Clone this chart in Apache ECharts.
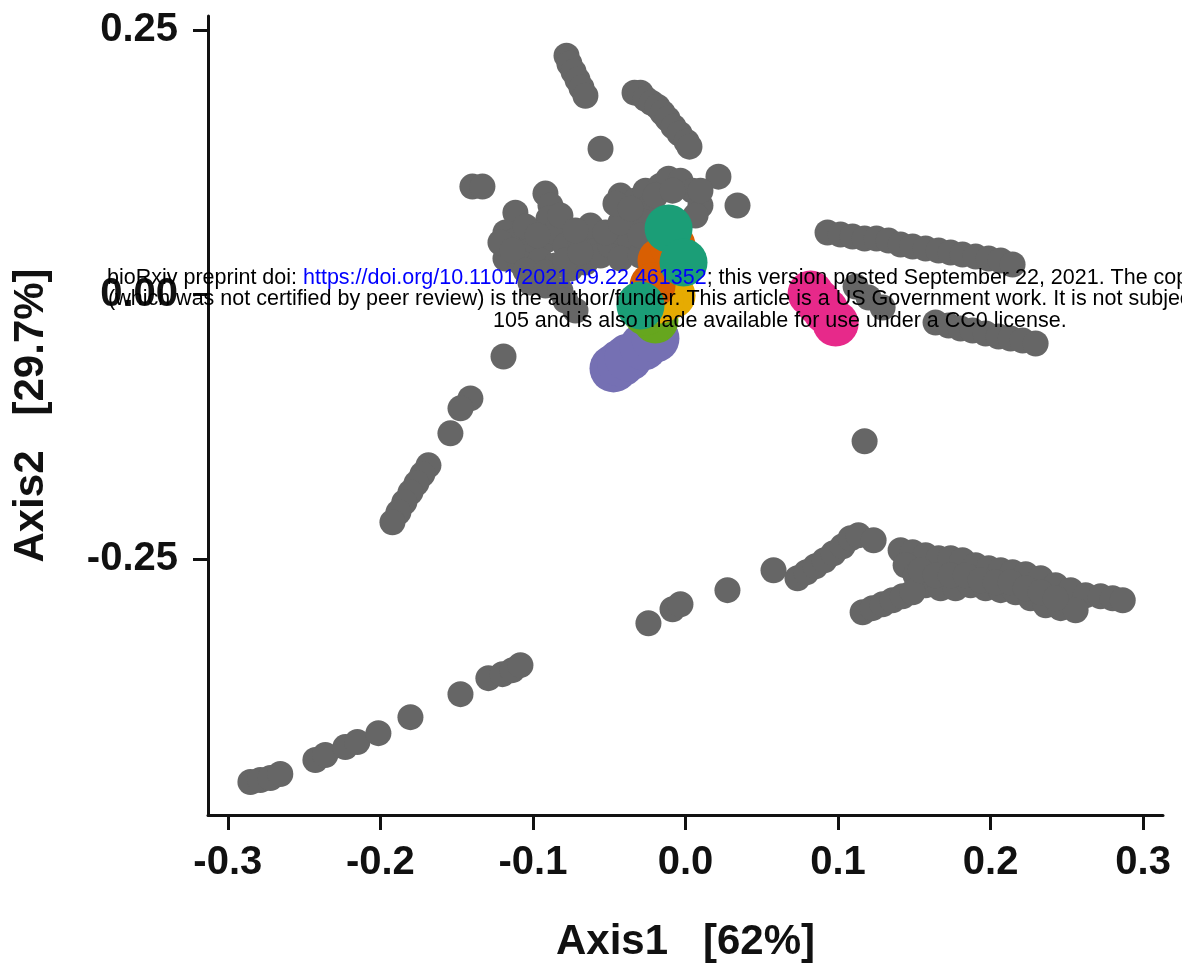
<!DOCTYPE html>
<html>
<head>
<meta charset="utf-8">
<script src="https://cdn.jsdelivr.net/npm/echarts@6/dist/echarts.min.js"></script>
<style>
html,body{margin:0;padding:0;background:#fff;}
#chart{width:1182px;height:963px;}
</style>
</head>
<body>
<div id="chart"></div>
<script>
// ---- tick labels ----
const xTicks = [-0.3, -0.2, -0.1, 0.0, 0.1, 0.2, 0.3];
const xTickLabels = ['-0.3', '-0.2', '-0.1', '0.0', '0.1', '0.2', '0.3'];
const yTicks = [-0.25, 0.0, 0.25];
const yTickLabels = ['-0.25', '0.00', '0.25'];

// ---- gray samples (Axis1, Axis2) ----
const grayTopChain = [[-0.0780,0.2255],[-0.0761,0.2179],[-0.0734,0.2104],[-0.0708,0.2028],[-0.0682,0.1953],[-0.0656,0.1877]];
const grayUpperChain = [[-0.0334,0.1906],[-0.0295,0.1906],[-0.0262,0.1849],[-0.0223,0.1811],[-0.0184,0.1774],[-0.0151,0.1717],[-0.0118,0.1660],[-0.0079,0.1585],[-0.0039,0.1519],[0.0007,0.1443],[0.0026,0.1396]];
const graySingles = [[-0.0557,0.1377],[-0.1397,0.1019],[-0.1331,0.1019],[0.0216,0.1113],[0.0341,0.0840],[0.1174,-0.1386]];
const grayCentralCluster = [[-0.1115,0.0773],[-0.0918,0.0953],[-0.0885,0.0840],[-0.0898,0.0717],[-0.1180,0.0585],[-0.1115,0.0509],[-0.1016,0.0462],[-0.0918,0.0509],[-0.0852,0.0585],[-0.0787,0.0462],[-0.0689,0.0509],[-0.0590,0.0415],[-0.1180,0.0340],[-0.1082,0.0302],[-0.0951,0.0321],[-0.0852,0.0274],[-0.0754,0.0245],[-0.0656,0.0302],[-0.0557,0.0368],[-0.0492,0.0462],[-0.0426,0.0585],[-0.0393,0.0745],[-0.0426,0.0934],[-0.0328,0.0887],[-0.0262,0.0981],[-0.0164,0.1028],[-0.0111,0.1094],[-0.0033,0.1075],[0.0046,0.0981],[0.0098,0.0840],[0.0066,0.0745],[-0.0230,0.0840],[-0.0295,0.0698],[-0.0361,0.0509],[-0.0426,0.0340],[-0.0295,0.0368],[-0.0918,0.0085],[-0.0820,0.0038],[-0.0787,-0.0057],[-0.0721,-0.0151],[-0.1016,0.0113],
  [-0.1213,0.0491],[-0.1134,0.0415],[-0.1049,0.0642],[-0.0970,0.0557],[-0.1049,0.0226],[-0.0918,0.0208],[-0.0787,0.0321],[-0.0689,0.0396],[-0.0623,0.0651],[-0.0525,0.0585],[-0.0426,0.0679],[-0.0295,0.0557],[-0.0459,0.0858],[-0.0361,0.0811],[-0.0197,0.0934],[-0.0085,0.0981],[0.0098,0.0981],[-0.0820,0.0745],[-0.0721,0.0604]];
const grayRightUpper = [[0.0931,0.0585],[0.1016,0.0566],[0.1095,0.0547],[0.1174,0.0528],[0.1252,0.0528],[0.1331,0.0509],[0.1410,0.0472],[0.1489,0.0453],[0.1574,0.0434],[0.1659,0.0415],[0.1738,0.0396],[0.1816,0.0377],[0.1902,0.0358],[0.1987,0.0340],[0.2066,0.0321],[0.2144,0.0283]];
const grayRightLower = [[0.1115,0.0075],[0.1200,-0.0028],[0.1292,-0.0123],[0.1639,-0.0264],[0.1725,-0.0292],[0.1803,-0.0321],[0.1882,-0.0340],[0.1967,-0.0368],[0.2052,-0.0396],[0.2131,-0.0415],[0.2210,-0.0434],[0.2295,-0.0462]];
const grayLeftChain = [[-0.1193,-0.0585],[-0.1410,-0.0981],[-0.1475,-0.1075],[-0.1541,-0.1311],[-0.1685,-0.1613],[-0.1725,-0.1698],[-0.1764,-0.1783],[-0.1803,-0.1868],[-0.1843,-0.1962],[-0.1882,-0.2057],[-0.1921,-0.2151]];
const grayBottomLeft = [[-0.2852,-0.4604],[-0.2787,-0.4585],[-0.2721,-0.4566],[-0.2656,-0.4528],[-0.2426,-0.4396],[-0.2361,-0.4349],[-0.2230,-0.4274],[-0.2151,-0.4226],[-0.2013,-0.4142],[-0.1803,-0.3991],[-0.1475,-0.3774],[-0.1292,-0.3623],[-0.1200,-0.3585],[-0.1134,-0.3547],[-0.1082,-0.3500]];
const grayBottomRight = [[-0.0243,-0.3104],[-0.0085,-0.2972],[-0.0033,-0.2925],[0.0275,-0.2792],[0.0577,-0.2604],[0.0734,-0.2679],[0.0793,-0.2623],[0.0852,-0.2566],[0.0911,-0.2509],[0.0970,-0.2443],[0.1030,-0.2377],[0.1082,-0.2302],[0.1134,-0.2274],[0.1233,-0.2321],[0.1410,-0.2415],[0.1489,-0.2434],[0.1574,-0.2462],[0.1659,-0.2491],[0.1738,-0.2491],[0.1816,-0.2509],[0.1902,-0.2557],[0.1987,-0.2585],[0.2066,-0.2604],[0.2144,-0.2623],[0.2230,-0.2642],[0.2328,-0.2679],[0.2426,-0.2745],[0.2525,-0.2792],[0.2623,-0.2840],[0.2721,-0.2849],[0.2800,-0.2868],[0.2866,-0.2887],[0.1443,-0.2557],[0.1508,-0.2651],[0.1574,-0.2745],[0.1672,-0.2774],[0.1770,-0.2774],[0.1869,-0.2745],[0.1967,-0.2774],[0.2066,-0.2792],[0.2164,-0.2811],[0.2262,-0.2868],[0.2361,-0.2934],[0.2459,-0.2962],[0.2557,-0.2981],[0.1161,-0.3000],[0.1226,-0.2962],[0.1292,-0.2925],[0.1357,-0.2887],[0.1423,-0.2849],[0.1489,-0.2811],
  [0.1541,-0.2604],[0.1639,-0.2651],[0.1738,-0.2651],[0.1836,-0.2651],[0.1934,-0.2698],[0.2033,-0.2717],[0.2131,-0.2717],[0.2230,-0.2774],[0.2328,-0.2811],[0.2426,-0.2868]];

// ---- coloured samples ----
const purplePts = [[-0.0472,-0.0698],[-0.0423,-0.0646],[-0.0374,-0.0594],[-0.0275,-0.0491],[-0.0197,-0.0415]];
const pinkPts = [[0.0820,0.0009],[0.0869,-0.0071],[0.0918,-0.0151],[0.0984,-0.0274]];
const lightGreenPts = [[-0.0197,-0.0245],[-0.0262,-0.0170]];
const yellowPts = [[-0.0085,-0.0009],[-0.0164,-0.0057]];
const orangePts = [[-0.0164,0.0321],[-0.0085,0.0462],[-0.0216,0.0085]];
const tealPts = [[-0.0111,0.0623],[-0.0013,0.0302],[-0.0295,-0.0104]];

// ---- header text ----
const headerLine1a = 'bioRxiv preprint doi: ';
const headerLink = 'https://doi.org/10.1101/2021.09.22.461352';
const headerLine1b = '; this version posted September 22, 2021. The copyright holder for this preprint';
const headerLine2 = '(which was not certified by peer review) is the author/funder. This article is a US Government work. It is not subject to copyright under 17 USC';
const headerLine3 = '105 and is also made available for use under a CC0 license.';

const FONT = "'Liberation Sans', Arial, Helvetica, sans-serif";
const gray = [].concat(grayTopChain, grayUpperChain, graySingles, grayCentralCluster, grayRightUpper, grayRightLower, grayLeftChain, grayBottomLeft, grayBottomRight);

function scat(data, color, size) {
  return {type:'scatter', data:data, symbolSize:size, itemStyle:{color:color, opacity:1}, silent:true};
}

const chart = echarts.init(document.getElementById('chart'), null, {renderer:'canvas'});
chart.setOption({
  animation:false,
  backgroundColor:'#ffffff',
  grid:{left:208, right:19, top:16, bottom:148, containLabel:false, outerBoundsMode:'none'},
  xAxis:{
    type:'value', min:-0.313, max:0.313,
    name:'Axis1   [62%]', nameLocation:'middle', nameGap:106,
    nameTextStyle:{fontFamily:FONT, fontSize:42, fontWeight:'bold', color:'#111'},
    axisLine:{show:true, onZero:false, lineStyle:{color:'#111', width:3}},
    axisTick:{show:true, length:15, customValues:xTicks, lineStyle:{color:'#111', width:3}},
    axisLabel:{customValues:xTicks, margin:28, fontFamily:FONT, fontSize:40, fontWeight:'bold', color:'#111',
      formatter:function(v){const i=xTicks.findIndex(t=>Math.abs(t-v)<1e-6); return i>=0?xTickLabels[i]:'';}},
    splitLine:{show:false}
  },
  yAxis:{
    type:'value', min:-0.4915, max:0.263,
    name:'Axis2   [29.7%]', nameLocation:'middle', nameGap:156,
    nameTextStyle:{fontFamily:FONT, fontSize:42, fontWeight:'bold', color:'#111'},
    axisLine:{show:true, onZero:false, lineStyle:{color:'#111', width:3}},
    axisTick:{show:true, length:15, customValues:yTicks, lineStyle:{color:'#111', width:3}},
    axisLabel:{customValues:yTicks, margin:30, fontFamily:FONT, fontSize:40, fontWeight:'bold', color:'#111',
      formatter:function(v){const i=yTicks.findIndex(t=>Math.abs(t-v)<1e-6); return i>=0?yTickLabels[i]:'';}},
    splitLine:{show:false}
  },
  series:[
    scat(gray, '#666666', 26),
    scat(purplePts, '#7570B3', 48),
    scat(pinkPts, '#E7298A', 46),
    scat(lightGreenPts, '#66A61E', 46),
    scat(yellowPts, '#E6AB02', 46),
    scat(orangePts, '#D95F02', 46),
    scat(tealPts, '#1B9E77', 48)
  ],
  graphic:[
    {type:'text', left:107, top:267, z:100, silent:true,
      style:{text:'{a|'+headerLine1a+'}{b|'+headerLink+'}{a|'+headerLine1b+'}',
        rich:{a:{fontFamily:FONT, fontSize:21.5, fill:'#000'}, b:{fontFamily:FONT, fontSize:21.5, fill:'#0000ff'}}}},
    {type:'text', left:108, top:288, z:100, silent:true,
      style:{text:headerLine2, font:"21.5px 'Liberation Sans', Arial, sans-serif", fill:'#000'}},
    {type:'text', left:493, top:310, z:100, silent:true,
      style:{text:headerLine3, font:"21.5px 'Liberation Sans', Arial, sans-serif", fill:'#000'}}
  ]
});
</script>
</body>
</html>
